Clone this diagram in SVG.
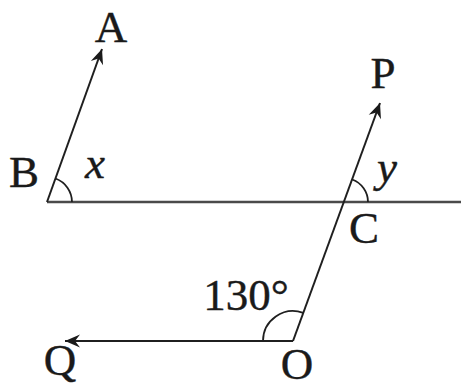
<svg xmlns="http://www.w3.org/2000/svg" width="461" height="390" viewBox="0 0 461 390">
<defs>
<marker id="arr" markerUnits="userSpaceOnUse" markerWidth="20" markerHeight="16" viewBox="-16 -8 18 16" refX="0" refY="0" orient="auto">
<path d="M0,0 L-15,-6.5 L-10,0 L-15,6.5 Z" fill="#1a1a1a"/>
</marker>
<style>
.ln{stroke:#1f1f1f;stroke-width:2;fill:none}
.hz{stroke:#4a4a4a;stroke-width:2.4;fill:none}
.arc{stroke:#1f1f1f;stroke-width:1.8;fill:none}
.lb{font-family:"Liberation Serif",serif;font-size:45px;fill:#1a1a1a;stroke:#1a1a1a;stroke-width:0.4;text-anchor:middle}
.it{font-style:italic}
</style>
</defs>
<rect width="461" height="390" fill="#ffffff"/>
<g id="connectors">
<line class="hz" x1="47" y1="202" x2="461" y2="202"/>
<line class="ln" x1="47" y1="202" x2="102" y2="49" marker-end="url(#arr)"/>
<line class="ln" x1="293" y1="341" x2="380" y2="103" marker-end="url(#arr)"/>
<line class="ln" x1="293" y1="341" x2="65" y2="341" marker-end="url(#arr)"/>
<path class="arc" d="M72,202 A25,25 0 0 0 55.5,178.5"/>
<path class="arc" d="M368,202 A24,24 0 0 0 352.2,179.5"/>
<path class="arc" d="M263,341 A30,30 0 0 1 303.3,312.8"/>
</g>
<g id="node-A"><text class="lb" x="111" y="42">A</text></g>
<g id="node-B"><text class="lb" x="24" y="187">B</text></g>
<g id="label-x"><text class="lb it" x="95" y="178">x</text></g>
<g id="node-P"><text class="lb" x="383" y="88">P</text></g>
<g id="label-y"><text class="lb it" x="387" y="182">y</text></g>
<g id="node-C"><text class="lb" x="364" y="243">C</text></g>
<g id="label-130"><text class="lb" x="246" y="310">130°</text></g>
<g id="node-Q"><text class="lb" x="60" y="375">Q</text></g>
<g id="node-O"><text class="lb" x="297" y="379">O</text></g>
</svg>
